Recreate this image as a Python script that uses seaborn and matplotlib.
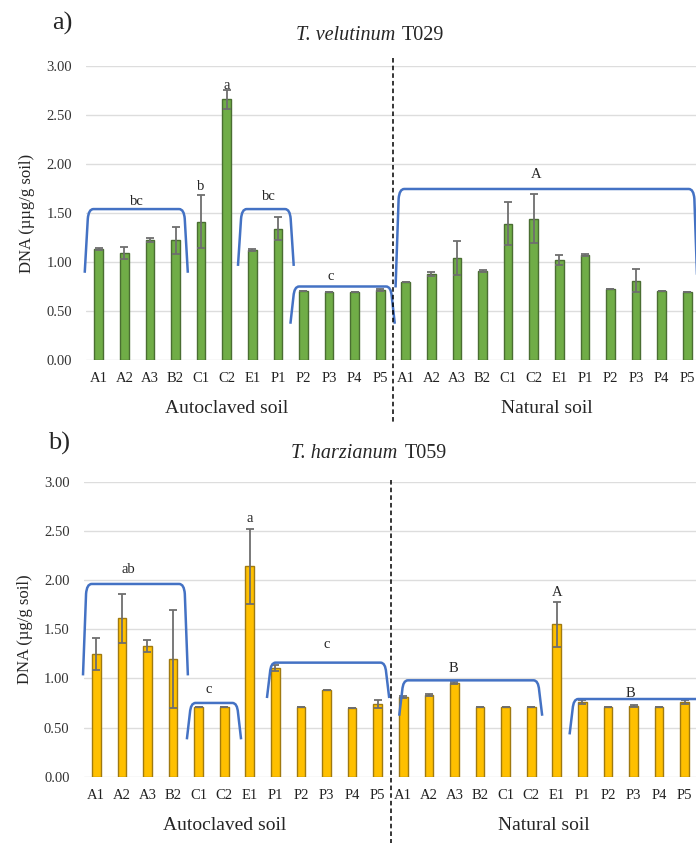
import matplotlib as mpl
import matplotlib.pyplot as plt
import matplotlib.transforms as mtransforms
from matplotlib.path import Path
from matplotlib.patches import PathPatch
import pandas as pd
import seaborn as sns

mpl.use("agg")
sns.set_theme()
sns.set_style("whitegrid")
plt.rcParams["font.family"] = ["Liberation Serif", "DejaVu Serif"]

samples = ["A1", "A2", "A3", "B2", "C1", "C2", "E1", "P1", "P2", "P3", "P4", "P5"]
soils = ["Autoclaved soil", "Natural soil"]

# T. velutinum T029
vel_auto = [1.13, 1.09, 1.22, 1.22, 1.41, 2.66, 1.12, 1.34, 0.70, 0.69, 0.69, 0.71]
vel_auto_err = [0.01, 0.06, 0.02, 0.14, 0.27, 0.10, 0.01, 0.12, 0.00, 0.00, 0.00, 0.01]
vel_nat = [0.80, 0.88, 1.04, 0.91, 1.39, 1.44, 1.02, 1.07, 0.72, 0.81, 0.70, 0.69]
vel_nat_err = [0.00, 0.02, 0.17, 0.01, 0.22, 0.25, 0.05, 0.01, 0.00, 0.12, 0.00, 0.00]

# T. harzianum T059
har_auto = [1.25, 1.61, 1.33, 1.20, 0.71, 0.71, 2.14, 1.11, 0.71, 0.88, 0.70, 0.74]
har_auto_err = [0.16, 0.25, 0.06, 0.50, 0.00, 0.00, 0.38, 0.03, 0.00, 0.00, 0.00, 0.04]
har_nat = [0.81, 0.83, 0.95, 0.71, 0.71, 0.71, 1.55, 0.76, 0.71, 0.72, 0.71, 0.76]
har_nat_err = [0.01, 0.01, 0.01, 0.00, 0.00, 0.00, 0.23, 0.02, 0.00, 0.01, 0.00, 0.02]

# significance groups: (x start, x end, bracket top, bracket foot, letter, letter x, letter y)
vel_brackets = [
    (-0.55, 3.48, 1.54, 0.89, "bc", 1.49, 1.62),
    (5.44, 7.62, 1.54, 0.96, "bc", 6.63, 1.67),
    (7.49, 11.57, 0.75, 0.37, "c", 9.06, 0.85),
    (11.6, 23.4, 1.745, 0.74, "A", 17.1, 1.89),
]
vel_letters = [("b", 4, 1.77), ("a", 5, 2.80)]

har_brackets = [
    (-0.52, 3.58, 1.96, 1.03, "ab", 1.24, 2.11),
    (3.54, 5.66, 0.75, 0.38, "c", 4.4, 0.89),
    (6.67, 11.45, 1.16, 0.80, "c", 9.0, 1.34),
    (11.84, 17.43, 0.98, 0.62, "B", 13.98, 1.10),
    (18.5, 24.6, 0.79, 0.43, "B", 20.9, 0.85),
]
har_letters = [("a", 6, 2.63), ("A", 18, 1.87)]

BLUE = "#4472C4"


def make_frame(auto, auto_err, nat, nat_err):
    rows = []
    for soil, vals, errs in [(soils[0], auto, auto_err), (soils[1], nat, nat_err)]:
        for s, v, e in zip(samples, vals, errs):
            rows.append({"key": f"{soil}-{s}", "sample": s, "soil": soil, "dna": v, "err": e})
    return pd.DataFrame(rows)


def draw_bracket(ax, x0, x1, ytop, ybot, slant=0.12, cx=0.22, cy=0.1):
    # slightly slanted sides with a tight rounded corner at the top
    verts = [
        (x0, ybot), (x0 + slant, ytop - cy), (x0 + slant + 0.03, ytop), (x0 + slant + cx, ytop),
        (x1 - slant - cx, ytop), (x1 - slant - 0.03, ytop), (x1 - slant, ytop - cy), (x1, ybot),
    ]
    codes = [Path.MOVETO, Path.LINETO, Path.CURVE3, Path.CURVE3,
             Path.LINETO, Path.CURVE3, Path.CURVE3, Path.LINETO]
    ax.add_patch(PathPatch(Path(verts, codes), fill=False, edgecolor=BLUE,
                           linewidth=1.8, clip_on=False, zorder=4))


def plot_panel(ax, df, color, edge, brackets, letters, ylabel, dash_top, dash_bottom):
    sns.barplot(data=df, x="key", y="dna", order=list(df["key"]), color=color,
                saturation=1, width=0.34, edgecolor=edge, linewidth=1.0,
                errorbar=None, ax=ax, zorder=2)
    ax.errorbar(range(len(df)), df["dna"], yerr=df["err"], fmt="none",
                ecolor="#6E6E6E", elinewidth=1.3, capsize=3.2, capthick=1.3, zorder=3)

    ax.set_ylim(0, 3)
    ax.set_xlim(-0.5, len(df) - 0.5)
    ax.set_yticks([0, 0.5, 1, 1.5, 2, 2.5, 3])
    ax.set_yticklabels([f"{t:.2f}" for t in ax.get_yticks()], fontsize=10.5, color="#333333")
    ax.set_xticks(range(len(df)))
    ax.set_xticklabels(df["sample"], fontsize=10.5, color="#222222")
    ax.tick_params(axis="x", length=0, pad=9)
    ax.tick_params(axis="y", length=0, pad=10)
    ax.grid(axis="y", color="#DDDDDD", linewidth=1.0)
    ax.grid(axis="x", visible=False)
    for sp in ax.spines.values():
        sp.set_visible(False)
    ax.set_facecolor("white")
    ax.set_xlabel("")
    ax.set_ylabel(ylabel, fontsize=12, labelpad=8)

    for x0, x1, yt, yb, lab, lx, ly in brackets:
        draw_bracket(ax, x0, x1, yt, yb)
        ax.text(lx, ly, lab, ha="center", va="center", fontsize=10.5)
    for lab, i, ly in letters:
        ax.text(i, ly, lab, ha="center", va="center", fontsize=10.5)

    trans = mtransforms.blended_transform_factory(ax.transData, ax.transAxes)
    ax.plot([11.5, 11.5], [dash_top, dash_bottom], transform=trans, clip_on=False,
            color="black", linewidth=1.1, linestyle=(0, (3, 2)), zorder=5)
    ax.text(5.0, -0.165, soils[0], transform=trans, ha="center", va="center", fontsize=14)
    ax.text(17.5, -0.165, soils[1], transform=trans, ha="center", va="center", fontsize=14)


W, H = 696, 843
fig = plt.figure(figsize=(W / 100, H / 100), dpi=100)

ax1 = fig.add_axes([86 / W, (H - 360) / H, 614 / W, 294 / H])
ax2 = fig.add_axes([83.5 / W, (H - 776.7) / H, 614 / W, 295 / H])

df_vel = make_frame(vel_auto, vel_auto_err, vel_nat, vel_nat_err)
df_har = make_frame(har_auto, har_auto_err, har_nat, har_nat_err)

plot_panel(ax1, df_vel, "#70AD47", "#4A6E32", vel_brackets, vel_letters,
           "DNA (µµg/g soil)", 1.027, -0.218)
plot_panel(ax2, df_har, "#FFC000", "#A07A10", har_brackets, har_letters,
           "DNA (µg/g soil)", 1.006, -0.23)

fig.text(52 / W, 1 - 23 / H, "a)", fontsize=19, ha="left", va="center")
fig.text(48 / W, 1 - 443 / H, "b)", fontsize=19, ha="left", va="center")
fig.text(395 / W, 1 - 36 / H, "T. velutinum", fontsize=14.5, style="italic", ha="right", va="center")
fig.text(402 / W, 1 - 36 / H, "T029", fontsize=14.5, ha="left", va="center")
fig.text(397 / W, 1 - 453 / H, "T. harzianum", fontsize=14.5, style="italic", ha="right", va="center")
fig.text(405 / W, 1 - 453 / H, "T059", fontsize=14.5, ha="left", va="center")

plt.savefig("out.png", dpi=100, facecolor="white")
plt.close(fig)
